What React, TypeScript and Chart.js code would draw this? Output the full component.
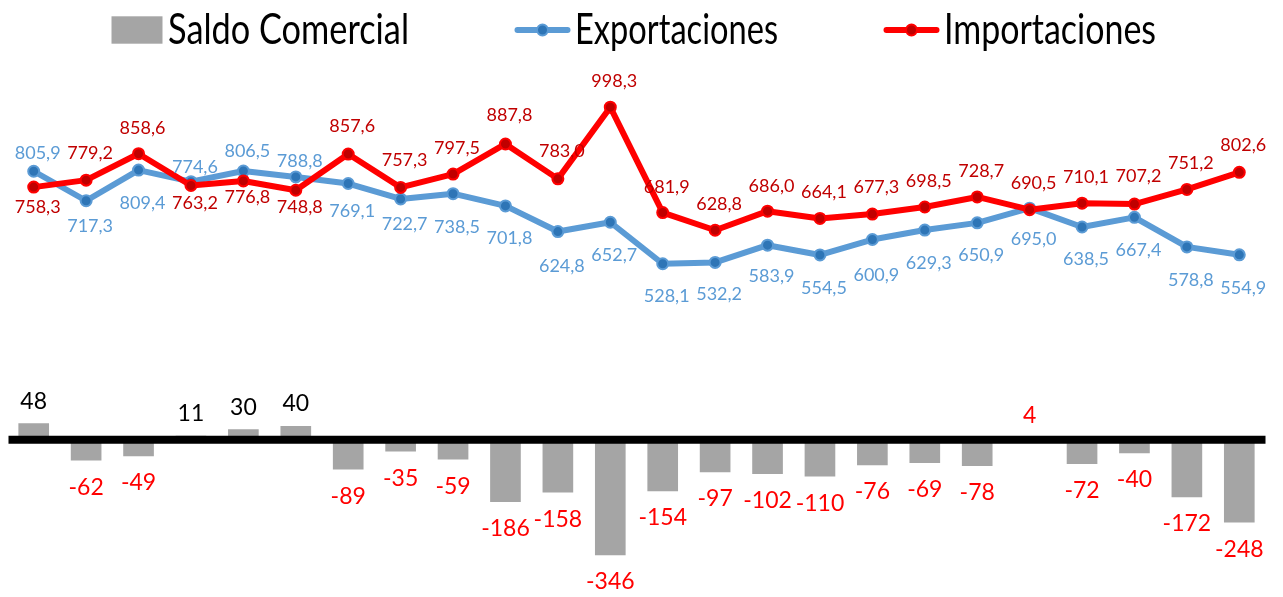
import React, { useEffect, useRef } from "react";
import { Chart, registerables } from "chart.js";

Chart.register(...registerables);

// ---------- data ----------
const categories = [
  "P1", "P2", "P3", "P4", "P5", "P6", "P7", "P8", "P9", "P10", "P11", "P12",
  "P13", "P14", "P15", "P16", "P17", "P18", "P19", "P20", "P21", "P22", "P23", "P24",
];

const exportaciones = [
  805.9, 717.3, 809.4, 774.6, 806.5, 788.8, 769.1, 722.7, 738.5, 701.8, 624.8, 652.7,
  528.1, 532.2, 583.9, 554.5, 600.9, 629.3, 650.9, 695.0, 638.5, 667.4, 578.8, 554.9,
];

const importaciones = [
  758.3, 779.2, 858.6, 763.2, 776.8, 748.8, 857.6, 757.3, 797.5, 887.8, 783.0, 998.3,
  681.9, 628.8, 686.0, 664.1, 677.3, 698.5, 728.7, 690.5, 710.1, 707.2, 751.2, 802.6,
];

const saldoComercial = [
  48, -62, -49, 11, 30, 40, -89, -35, -59, -186, -158, -346,
  -154, -97, -102, -110, -76, -69, -78, 4, -72, -40, -172, -248,
];

const legendOrder = ["Saldo Comercial", "Exportaciones", "Importaciones"];

// ---------- styling ----------
const FONT = "Lato, 'Noto Sans', sans-serif";
const Y_MIN = -450;
const Y_MAX = 1200;

// baseline offset (px) of each data label from its point centre
const expLabelDy = [
  -12, 31, 39, -9, -14, -10, 33, 31, 39, 38, 40, 39,
  38, 38, 37, 39, 41, 39, 38, 37, 38, 39, 39, 39,
];
const impLabelDy = [
  26, -21, -20, 24, 22, 23, -22, -21, -20, -23, -22, -20,
  -20, -20, -19, -20, -21, -20, -20, -21, -20, -22, -20, -21,
];

const labelStyle: Record<string, { color: string; dy: number[] }> = {
  Exportaciones: { color: "#5B9BD5", dy: expLabelDy },
  Importaciones: { color: "#C00000", dy: impLabelDy },
};

// legend text widths (px) in the reference layout
const legendTextWidths = [241, 203, 212];

const fmt1 = (v: number) => v.toFixed(1).replace(".", ",");

const zeroLinePlugin = {
  id: "zeroLine",
  afterDatasetsDraw(chart: any) {
    const { ctx, chartArea, scales } = chart;
    const y0 = scales.y.getPixelForValue(0);
    ctx.save();
    ctx.strokeStyle = "#000000";
    ctx.lineWidth = 8;
    ctx.beginPath();
    ctx.moveTo(chartArea.left + 1, y0);
    ctx.lineTo(chartArea.right, y0);
    ctx.stroke();
    ctx.restore();
  },
};

const dataLabelPlugin = {
  id: "dataLabels",
  afterDatasetsDraw(chart: any) {
    const ctx = chart.ctx;
    ctx.save();
    ctx.textAlign = "center";
    ctx.textBaseline = "alphabetic";
    chart.data.datasets.forEach((ds: any, di: number) => {
      const meta = chart.getDatasetMeta(di);
      meta.data.forEach((el: any, i: number) => {
        const v = ds.data[i] as number;
        if (ds.type === "bar") {
          ctx.font = `23px ${FONT}`;
          const red = v < 5;
          ctx.fillStyle = red ? "#FF0000" : "#000000";
          const y = v >= 0 ? el.y - 15 : el.y + 34.5;
          ctx.fillText(String(v), el.x, y);
        } else {
          const st = labelStyle[ds.label];
          ctx.font = `18px ${FONT}`;
          ctx.fillStyle = st.color;
          ctx.fillText(fmt1(v), el.x + 4, el.y + st.dy[i]);
        }
      });
    });
    ctx.restore();
  },
};

const legendPlugin = {
  id: "excelLegend",
  afterDraw(chart: any) {
    const ctx = chart.ctx;
    ctx.save();
    ctx.font = `42px ${FONT}`;
    const cy = 30;
    let x = 111.5;
    legendOrder.forEach((name, k) => {
      const ds = chart.data.datasets.find((d: any) => d.label === name);
      if (ds.type === "bar") {
        ctx.fillStyle = ds.backgroundColor;
        ctx.fillRect(x, cy - 13.7, 51, 27.4);
        x += 51;
      } else {
        ctx.strokeStyle = ds.borderColor;
        ctx.lineWidth = 6;
        ctx.lineCap = "round";
        ctx.beginPath();
        ctx.moveTo(x + 2, cy);
        ctx.lineTo(x + 52, cy);
        ctx.stroke();
        ctx.beginPath();
        ctx.arc(x + 27, cy, 5.5, 0, Math.PI * 2);
        ctx.fillStyle = ds.pointBackgroundColor;
        ctx.fill();
        ctx.lineWidth = 2;
        ctx.strokeStyle = ds.pointBorderColor;
        ctx.stroke();
        x += 54;
      }
      x += 5.5;
      const sx = legendTextWidths[k] / ctx.measureText(name).width;
      ctx.save();
      ctx.translate(x, 44);
      ctx.scale(sx, 1);
      ctx.fillStyle = "#000000";
      ctx.textAlign = "left";
      ctx.textBaseline = "alphabetic";
      ctx.fillText(name, 0, 0);
      ctx.restore();
      x += legendTextWidths[k] + 106.5;
    });
    ctx.restore();
  },
};

export default function App() {
  const canvasRef = useRef<HTMLCanvasElement | null>(null);

  useEffect(() => {
    if (!canvasRef.current) return;
    const chart = new Chart(canvasRef.current, {
      type: "bar",
      data: {
        labels: categories,
        datasets: [
          {
            type: "line",
            label: "Importaciones",
            data: importaciones,
            borderColor: "#FF0000",
            backgroundColor: "#C00000",
            borderWidth: 6,
            borderJoinStyle: "round",
            borderCapStyle: "round",
            pointRadius: 5.5,
            pointBorderWidth: 2,
            pointBorderColor: "#FF0000",
            pointBackgroundColor: "#C00000",
            tension: 0,
            order: 0,
          } as any,
          {
            type: "line",
            label: "Exportaciones",
            data: exportaciones,
            borderColor: "#5B9BD5",
            backgroundColor: "#2E75B6",
            borderWidth: 6,
            borderJoinStyle: "round",
            borderCapStyle: "round",
            pointRadius: 5.5,
            pointBorderWidth: 2,
            pointBorderColor: "#5B9BD5",
            pointBackgroundColor: "#2E75B6",
            tension: 0,
            order: 1,
          } as any,
          {
            type: "bar",
            label: "Saldo Comercial",
            data: saldoComercial,
            backgroundColor: "#A5A5A5",
            barThickness: 30,
            order: 2,
          } as any,
        ],
      },
      options: {
        animation: false,
        responsive: false,
        events: [],
        layout: { padding: { left: 7, right: 17.5, top: 40, bottom: 7.5 } },
        plugins: {
          legend: { display: false },
          tooltip: { enabled: false },
        },
        scales: {
          x: { display: false, offset: true },
          y: { display: false, min: Y_MIN, max: Y_MAX },
        },
      },
      plugins: [zeroLinePlugin, dataLabelPlugin, legendPlugin],
    });
    return () => chart.destroy();
  }, []);

  return (
    <div style={{ position: "absolute", left: 0, top: 0, width: 1283, height: 597, background: "#fff" }}>
      <canvas ref={canvasRef} width={1283} height={597} style={{ display: "block" }} />
    </div>
  );
}
